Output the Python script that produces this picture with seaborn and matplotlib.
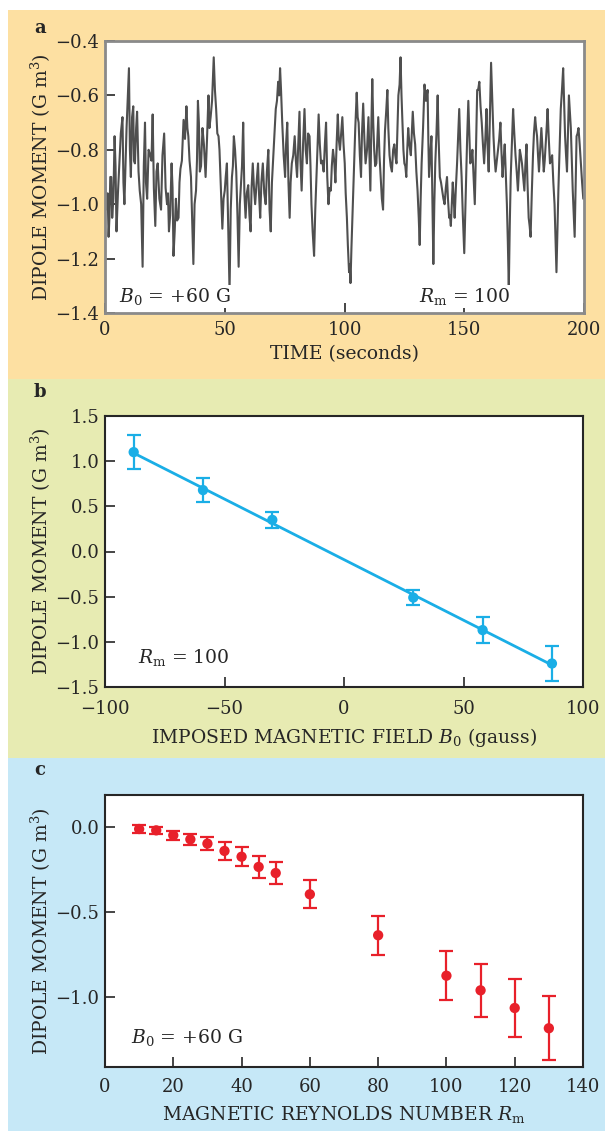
import matplotlib
matplotlib.use("Agg")
import matplotlib.pyplot as plt
import seaborn as sns
import pandas as pd
from matplotlib.patches import Rectangle

# panel a: dipole moment time series, main peaks and troughs
time_s = [0, 0.8, 1.5, 2.2, 3.0, 4.0, 4.8, 6.0, 7.3, 8.1, 10.0, 10.8, 11.8, 12.5, 13.4, 14.5,
          15.7, 16.7, 17.6, 18.9, 19.9, 21.0, 22.0, 23.4, 24.7, 25.9, 26.7, 27.8, 28.6, 29.6,
          30.7, 31.5, 32.8, 34.0, 34.8, 35.9, 36.9, 38.0, 38.8, 39.6, 40.7, 42.0, 43.2, 44.1,
          45.4, 46.4, 47.4, 48.3, 49.0, 50.0, 50.9, 52.0, 53.0, 53.8, 54.8, 55.8, 56.8, 57.7,
          58.7, 59.8, 60.8, 61.7, 62.7, 63.9, 64.8, 65.9, 67.1, 68.2, 69.2, 70.3, 71.3, 72.3,
          73.1, 74.0, 75.2, 76.1, 77.1, 78.0, 79.2, 80.2, 81.2, 82.1, 83.3, 84.3, 85.4, 86.2,
          87.3, 88.3, 89.2, 90.2, 91.3, 92.3, 93.3, 94.3, 95.2, 96.2, 97.2, 98.1, 99.1, 100.1,
          101.0, 101.9, 102.5, 103.3, 104.0, 105.1, 105.9, 106.9, 107.8, 108.8, 110.0, 110.8,
          111.6, 112.4, 113.3, 114.1, 115.1, 116.1, 116.9, 117.9, 118.8, 119.8, 120.8, 121.7,
          122.5, 123.4, 124.2, 125.0, 125.8, 126.6, 127.7, 128.5, 129.5, 130.5, 131.4, 132.2,
          133.4, 134.7, 135.3, 136.3, 137.1, 137.9, 138.9, 139.8, 140.8, 141.8, 142.8, 143.7,
          144.4, 145.2, 146.0, 147.0, 147.9, 148.9, 150.0, 150.8, 151.7, 152.5, 153.4, 154.4,
          155.4, 156.3, 157.3, 158.3, 159.3, 160.2, 161.2, 162.2, 163.1, 164.1, 165.1, 166.0,
          166.9, 167.8, 168.6, 169.4, 170.4, 171.4, 172.4, 173.2, 174.1, 175.1, 176.0, 176.9,
          177.7, 178.7, 179.6, 180.4, 181.2, 182.2, 183.2, 184.0, 184.8, 185.8, 186.7, 187.7,
          188.5, 189.3, 190.3, 191.3, 192.1, 192.9, 193.7, 194.5, 195.3, 196.1, 196.9, 197.7,
          198.7, 199.7]
dipole_a = [-0.85, -1.00, -1.12, -0.90, -1.05, -0.75, -1.10, -0.85, -0.68, -1.00, -0.50, -0.90,
            -0.64, -0.85, -0.66, -0.95, -1.23, -0.70, -0.98, -0.82, -0.67, -1.08, -0.85, -1.02,
            -0.74, -1.00, -1.10, -0.85, -1.19, -0.98, -1.05, -0.87, -0.69, -0.64, -0.75, -0.90,
            -1.22, -0.95, -0.62, -0.88, -0.72, -0.90, -0.60, -0.68, -0.46, -0.65, -0.75, -0.92,
            -1.09, -0.95, -0.85, -1.32, -0.90, -0.75, -0.88, -1.23, -0.92, -0.70, -1.05, -0.93,
            -1.10, -0.85, -1.00, -0.85, -1.05, -0.85, -1.00, -0.80, -1.10, -0.82, -0.65, -0.55,
            -0.50, -0.70, -0.90, -0.70, -1.05, -0.85, -0.75, -0.90, -0.66, -0.95, -0.65, -0.85,
            -0.75, -1.00, -1.19, -0.90, -0.67, -0.85, -0.88, -0.70, -1.00, -0.95, -0.80, -0.92,
            -0.67, -0.80, -0.68, -0.85, -1.05, -1.25, -1.29, -1.05, -0.85, -0.59, -0.70, -0.90,
            -0.63, -0.85, -0.68, -0.95, -0.54, -0.80, -0.85, -0.68, -0.90, -1.02, -0.73, -0.58,
            -0.82, -0.88, -0.78, -0.85, -0.60, -0.46, -0.70, -0.85, -0.90, -0.72, -0.82, -0.66,
            -0.78, -0.95, -1.15, -0.85, -0.56, -0.58, -0.90, -0.75, -1.22, -0.85, -0.60, -0.90,
            -0.95, -1.00, -0.90, -1.05, -1.08, -0.92, -1.05, -0.85, -0.65, -0.90, -1.18, -0.90,
            -0.62, -0.85, -0.80, -1.00, -0.58, -0.55, -0.70, -0.85, -0.65, -0.88, -0.48, -0.75,
            -0.88, -0.80, -0.70, -0.90, -0.78, -1.00, -1.31, -0.90, -0.65, -0.82, -0.95, -0.80,
            -0.85, -0.95, -0.78, -1.05, -1.12, -0.82, -0.68, -0.75, -0.88, -0.72, -0.88, -0.78,
            -0.65, -0.85, -0.82, -1.00, -1.25, -0.95, -0.65, -0.50, -0.75, -0.88, -0.60, -0.72,
            -0.95, -1.12, -0.75, -0.72, -0.85, -0.98]

# panel a: smaller wiggles read between the main extrema
time_mid = [0.4, 1.1, 1.9, 2.6, 3.5, 4.4, 5.4, 6.6, 7.7, 9.0, 10.4, 11.3, 12.1, 13.0, 14.0,
            15.1, 16.2, 17.1, 18.2, 19.4, 20.4, 21.5, 22.7, 24.0, 25.3, 26.3, 27.2, 28.2, 29.1,
            30.1, 31.1, 32.1, 33.4, 34.4, 35.3, 36.4, 37.4, 38.4, 39.2, 40.1, 41.3, 42.6, 43.6,
            44.7, 45.9, 46.9, 47.8, 48.6, 49.5, 50.4, 51.4, 52.5, 53.4, 54.3, 55.3, 56.3, 57.2,
            58.2, 59.2, 60.3, 61.2, 62.2, 63.3, 64.3, 65.3, 66.5, 67.6, 68.7, 69.7, 70.8, 71.8,
            72.7, 73.5, 74.6, 75.6, 76.6, 77.5, 78.6, 79.7, 80.7, 81.6, 82.7, 83.8, 84.8, 85.8,
            86.7, 87.8, 88.7, 89.7, 90.7, 91.8, 92.8, 93.8, 94.7, 95.7, 96.7, 97.6, 98.6, 99.6,
            100.5, 101.4, 102.2, 102.9, 103.6, 104.5, 105.5, 106.4, 107.3, 108.3, 109.4, 110.4,
            111.2, 112.0, 112.8, 113.7, 114.6, 115.6, 116.5, 117.4, 118.3, 119.3, 120.3, 121.2,
            122.1, 123.0, 123.8, 124.6, 125.4, 126.2, 127.1, 128.1, 129.0, 130.0, 131.0, 131.8,
            132.8, 134.0, 135.0, 135.8, 136.7, 137.5, 138.4, 139.3, 140.3, 141.3, 142.3, 143.2,
            144.0, 144.8, 145.6, 146.5, 147.4, 148.4, 149.4, 150.4, 151.2, 152.1, 153.0, 153.9,
            154.9, 155.8, 156.8, 157.8, 158.8, 159.7, 160.7, 161.7, 162.6, 163.6, 164.6, 165.5,
            166.4, 167.3, 168.2, 169.0, 169.9, 170.9, 171.9, 172.8, 173.6, 174.6, 175.5, 176.4,
            177.3, 178.2, 179.1, 180.0, 180.8, 181.7, 182.7, 183.6, 184.4, 185.3, 186.2, 187.2,
            188.1, 188.9, 189.8, 190.8, 191.7, 192.5, 193.3, 194.1, 194.9, 195.7, 196.5, 197.3,
            198.2, 199.2]
dipole_mid = [-1.02, -0.96, -1.04, -0.90, -0.98, -0.86, -0.96, -0.74, -0.92, -0.72, -0.80, -0.68,
              -0.84, -0.72, -0.88, -1.00, -0.86, -0.92, -0.80, -0.84, -0.94, -0.88, -0.98, -0.82,
              -0.94, -0.96, -1.04, -0.94, -1.10, -1.06, -0.92, -0.84, -0.76, -0.72, -0.84, -1.06,
              -1.00, -0.84, -0.70, -0.86, -0.78, -0.76, -0.72, -0.62, -0.58, -0.74, -0.80, -1.00,
              -0.98, -0.90, -1.06, -1.02, -0.86, -0.80, -1.04, -1.00, -0.86, -0.96, -0.96, -1.04,
              -0.94, -0.94, -0.92, -0.96, -0.92, -0.96, -0.88, -1.02, -0.92, -0.74, -0.62, -0.60,
              -0.58, -0.82, -0.78, -0.92, -0.92, -0.82, -0.84, -0.78, -0.84, -0.78, -0.80, -0.74,
              -0.86, -1.10, -1.02, -0.80, -0.78, -0.84, -0.78, -0.90, -0.94, -0.86, -0.84, -0.78,
              -0.76, -0.74, -0.78, -0.96, -1.15, -1.22, -1.16, -0.96, -0.72, -0.68, -0.82, -0.74,
              -0.76, -0.80, -0.82, -0.72, -0.70, -0.86, -0.76, -0.82, -0.98, -0.84, -0.66, -0.72,
              -0.86, -0.80, -0.82, -0.72, -0.56, -0.60, -0.80, -0.86, -0.80, -0.78, -0.74, -0.74,
              -0.88, -1.05, -0.98, -0.72, -0.62, -0.76, -0.82, -0.98, -1.00, -0.74, -0.76, -0.92,
              -0.98, -0.94, -0.98, -1.04, -1.00, -0.98, -0.94, -0.76, -0.80, -1.04, -1.04, -0.76,
              -0.74, -0.84, -0.90, -0.80, -0.58, -0.64, -0.78, -0.76, -0.78, -0.68, -0.62, -0.82,
              -0.84, -0.76, -0.80, -0.84, -0.88, -1.14, -1.08, -0.78, -0.74, -0.88, -0.88, -0.82,
              -0.90, -0.86, -0.92, -1.08, -0.96, -0.74, -0.72, -0.82, -0.80, -0.80, -0.84, -0.72,
              -0.76, -0.84, -0.92, -1.12, -1.10, -0.80, -0.58, -0.62, -0.82, -0.74, -0.66, -0.84,
              -1.04, -0.94, -0.74, -0.78, -0.92]

# panel b: dipole moment vs imposed field
field_b = [-88, -59, -30, 29, 58, 87]
dipole_b = [1.10, 0.68, 0.35, -0.51, -0.87, -1.24]
err_b = [0.19, 0.135, 0.085, 0.083, 0.14, 0.19]
fit_x = [-88, 88]
fit_y = [1.09, -1.27]

# panel c: dipole moment vs magnetic Reynolds number
rm_c = [10, 15, 20, 25, 30, 35, 40, 45, 50, 60, 80, 100, 110, 120, 130]
dipole_c = [-0.01, -0.018, -0.047, -0.071, -0.096, -0.139, -0.173, -0.233, -0.269,
            -0.394, -0.635, -0.873, -0.959, -1.063, -1.182]
err_c = [0.022, 0.022, 0.026, 0.032, 0.04, 0.052, 0.057, 0.066, 0.064,
         0.083, 0.115, 0.143, 0.154, 0.17, 0.188]

trace = pd.concat([pd.DataFrame({'t': time_s, 'm': dipole_a}),
                   pd.DataFrame({'t': time_mid, 'm': dipole_mid})]).sort_values('t')

sns.set_style("ticks")
plt.rcParams['font.family'] = ['DejaVu Serif']
plt.rcParams['mathtext.fontset'] = 'dejavuserif'

BLUE = '#1aaee6'
RED = '#e8202a'
GRAY = '#4f4f4f'

fig = plt.figure(figsize=(6.05, 11.33), dpi=100, facecolor='white')

# coloured panel backgrounds (figure pixels -> fraction)
W, H = 605.0, 1133.0
for y0, y1, col in [(10, 379, '#fde0a2'), (379, 758, '#e7ebb2'), (758, 1131, '#c6e8f7')]:
    fig.patches.append(Rectangle((8 / W, 1 - y1 / H), 1 - 8 / W, (y1 - y0) / H,
                                 transform=fig.transFigure, facecolor=col,
                                 edgecolor='none', zorder=-10))

ax_a = fig.add_axes([105 / W, 1 - 313 / H, 479 / W, 272 / H])
ax_b = fig.add_axes([105 / W, 1 - 687 / H, 478 / W, 271 / H])
ax_c = fig.add_axes([105 / W, 1 - 1067 / H, 478 / W, 272 / H])

tick_kw = dict(direction='in', length=7, width=1.2, labelsize=13)
label_fs = 13.5
txt_box = dict(facecolor='white', edgecolor='none', pad=1.0)


def style_ticks(ax, xpad):
    ax.tick_params(axis='x', pad=xpad, **tick_kw)
    ax.tick_params(axis='y', pad=4, **tick_kw)


# --- a
sns.lineplot(data=trace, x='t', y='m', ax=ax_a, color=GRAY, linewidth=1.5,
             estimator=None, sort=False)
ax_a.set_xlim(0, 200)
ax_a.set_ylim(-1.4, -0.4)
ax_a.set_xticks([0, 50, 100, 150, 200])
ax_a.set_yticks([-1.4, -1.2, -1.0, -0.8, -0.6, -0.4])
ax_a.set_yticklabels(['\u22121.4', '\u22121.2', '\u22121.0', '\u22120.8', '\u22120.6', '\u22120.4'])
style_ticks(ax_a, 6)
for s in ax_a.spines.values():
    s.set_color('#8a8a8a')
    s.set_linewidth(2.0)
ax_a.set_xlabel('TIME (seconds)', fontsize=label_fs, labelpad=4)
ax_a.set_ylabel('DIPOLE MOMENT (G m$^3$)', fontsize=label_fs, labelpad=2)
ax_a.text(0.03, 0.06, '$B_0$ = +60 G', transform=ax_a.transAxes, fontsize=13.5,
          va='center', bbox=txt_box)
ax_a.text(0.655, 0.06, '$R_\\mathrm{m}$ = 100', transform=ax_a.transAxes, fontsize=13.5,
          va='center', bbox=txt_box)
fig.text(40 / W, 1 - 28 / H, 'a', fontsize=13, fontweight='bold', ha='center', va='center')

# --- b
sns.lineplot(x=fit_x, y=fit_y, ax=ax_b, color=BLUE, linewidth=2.0)
ax_b.errorbar(field_b, dipole_b, yerr=err_b, fmt='none', ecolor=BLUE, elinewidth=1.6,
              capsize=5, capthick=1.6)
sns.scatterplot(x=field_b, y=dipole_b, ax=ax_b, color=BLUE, s=55, edgecolor='none', zorder=3)
ax_b.set_xlim(-100, 100)
ax_b.set_ylim(-1.5, 1.5)
ax_b.set_xticks([-100, -50, 0, 50, 100])
ax_b.set_xticklabels(['\u2212100', '\u221250', '0', '50', '100'])
ax_b.set_yticks([-1.5, -1.0, -0.5, 0.0, 0.5, 1.0, 1.5])
ax_b.set_yticklabels(['\u22121.5', '\u22121.0', '\u22120.5', '0.0', '0.5', '1.0', '1.5'])
style_ticks(ax_b, 9)
for s in ax_b.spines.values():
    s.set_linewidth(1.5)
ax_b.set_xlabel('IMPOSED MAGNETIC FIELD $B_0$ (gauss)', fontsize=label_fs, labelpad=6)
ax_b.set_ylabel('DIPOLE MOMENT (G m$^3$)', fontsize=label_fs, labelpad=2)
ax_b.text(0.07, 0.11, '$R_\\mathrm{m}$ = 100', transform=ax_b.transAxes, fontsize=13.5, va='center')
fig.text(40 / W, 1 - 392 / H, 'b', fontsize=13, fontweight='bold', ha='center', va='center')

# --- c
ax_c.errorbar(rm_c, dipole_c, yerr=err_c, fmt='none', ecolor=RED, elinewidth=1.6,
              capsize=5, capthick=1.6)
sns.scatterplot(x=rm_c, y=dipole_c, ax=ax_c, color=RED, s=55, edgecolor='none', zorder=3)
ax_c.set_xlim(0, 140)
ax_c.set_ylim(-1.41, 0.19)
ax_c.set_xticks([0, 20, 40, 60, 80, 100, 120, 140])
ax_c.set_yticks([-1.0, -0.5, 0.0])
ax_c.set_yticklabels(['\u22121.0', '\u22120.5', '0.0'])
style_ticks(ax_c, 8)
for s in ax_c.spines.values():
    s.set_linewidth(1.5)
ax_c.set_xlabel('MAGNETIC REYNOLDS NUMBER $R_\\mathrm{m}$', fontsize=label_fs, labelpad=6)
ax_c.set_ylabel('DIPOLE MOMENT (G m$^3$)', fontsize=label_fs, labelpad=2)
ax_c.text(0.055, 0.11, '$B_0$ = +60 G', transform=ax_c.transAxes, fontsize=13.5, va='center')
fig.text(40 / W, 1 - 770 / H, 'c', fontsize=13, fontweight='bold', ha='center', va='center')

fig.savefig('out.png', dpi=100, facecolor='white')
